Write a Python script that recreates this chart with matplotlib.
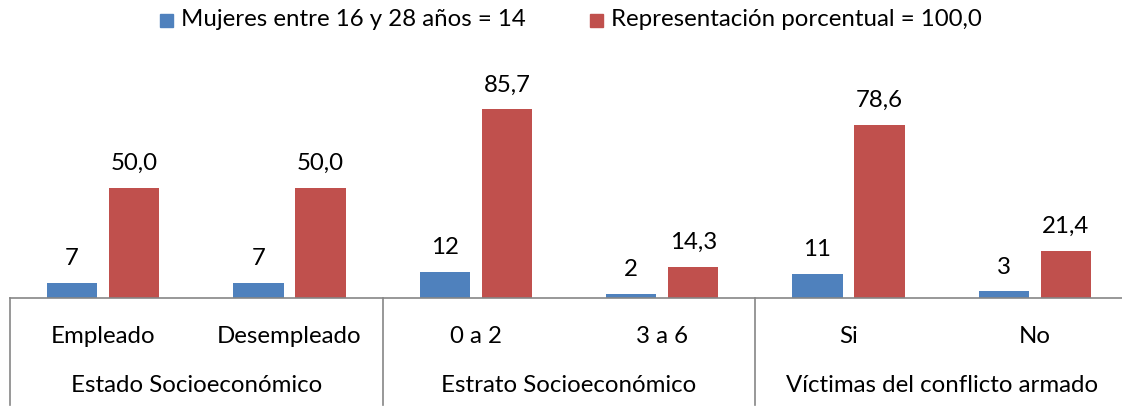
import numpy as np
import matplotlib.pyplot as plt
from matplotlib.patches import Rectangle

plt.rcParams['font.family'] = ['Lato', 'DejaVu Sans']

categorias = ['Empleado', 'Desempleado', '0 a 2', '3 a 6', 'Si', 'No']
grupos = ['Estado Socioeconómico', 'Estrato Socioeconómico', 'Víctimas del conflicto armado']
mujeres = [7, 7, 12, 2, 11, 3]
porcentaje = [50.0, 50.0, 85.7, 14.3, 78.6, 21.4]
leyenda = ['Mujeres entre 16 y 28 años = 14', 'Representación porcentual = 100,0']

azul = '#4F81BD'
rojo = '#C0504D'
W, H = 1122, 411
fs = 17.3

fig = plt.figure(figsize=(W / 100, H / 100), dpi=100)
base = 298
ax = fig.add_axes([10 / W, (H - base) / H, 1118 / W, 220 / H])
ax.set_xlim(0, len(categorias))
ax.set_ylim(0, 100)

x = np.arange(len(categorias)) + 0.5
ancho = 0.27
off = 0.167
ax.bar(x - off, mujeres, ancho, color=azul)
ax.bar(x + off, porcentaje, ancho, color=rojo)

for xi, v in zip(x, mujeres):
    ax.annotate(str(v), (xi - off, v), xytext=(0, 10), textcoords='offset points',
                ha='center', va='bottom', fontsize=fs)
for xi, v in zip(x, porcentaje):
    ax.annotate(f'{v:.1f}'.replace('.', ','), (xi + off, v), xytext=(0, 10),
                textcoords='offset points', ha='center', va='bottom', fontsize=fs)

ax.axis('off')
ax.axhline(0, color='#868686', lw=1.2, clip_on=False)

# eje de categorías en dos niveles
trans = ax.get_xaxis_transform()
y_bot = -(405 - base) / 220
for g in range(len(grupos) + 1):
    ax.plot([2 * g, 2 * g], [0, y_bot], color='#868686', lw=1.2,
            transform=trans, clip_on=False)
for xi, c in zip(x, categorias):
    ax.text(xi, -(336 - base) / 220, c, transform=trans, ha='center', va='center', fontsize=fs)
for g, nombre in enumerate(grupos):
    ax.text(2 * g + 1, -(385 - base) / 220, nombre, transform=trans,
            ha='center', va='center', fontsize=fs)

# leyenda
for (px, txt, col) in [(160, leyenda[0], azul), (590, leyenda[1], rojo)]:
    fig.patches.append(Rectangle((px / W, (H - 27) / H), 13 / W, 13 / H,
                                 color=col, transform=fig.transFigure))
    fig.text((px + 21) / W, (H - 20) / H, txt, ha='left', va='center', fontsize=fs)

fig.savefig('out.png', dpi=100)
